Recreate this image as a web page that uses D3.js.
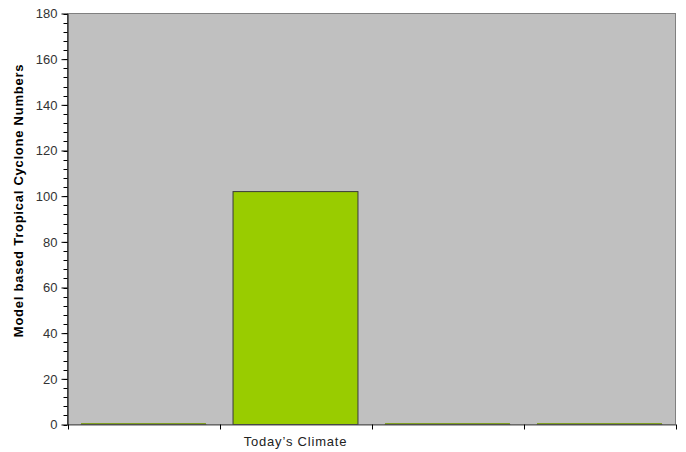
<!DOCTYPE html>
<html><head><meta charset="utf-8">
<script src="https://cdn.jsdelivr.net/npm/d3@7"></script>
<style>body{margin:0;background:#fff;} text{font-family:"Liberation Sans",Arial,sans-serif;}</style>
</head><body>
<svg id="c" width="686" height="452"></svg>
<script>
const categories = ["", "Today\u2019s Climate", "", ""];
const values = [0, 102, 0, 0];
const yTicks = [0, 20, 40, 60, 80, 100, 120, 140, 160, 180];
const yLabel = "Model based Tropical Cyclone Numbers";

const svg = d3.select("#c");
const m = {l: 67.5, t: 13.5, r: 675.5, b: 424.5};
const x = d3.scaleBand().domain(d3.range(categories.length)).range([m.l, m.r]).paddingInner(0.178).paddingOuter(0.089);
const xc = d3.scaleBand().domain(d3.range(categories.length)).range([m.l, m.r]);
const y = d3.scaleLinear().domain([0, 180]).range([m.b, m.t]);

svg.append("rect").attr("x", m.l).attr("y", m.t).attr("width", m.r - m.l).attr("height", m.b - m.t)
  .attr("fill", "#c0c0c0").attr("stroke", "#808080").attr("stroke-width", 1);

// bars
svg.selectAll("rect.bar").data(values).join("rect").attr("class", "bar")
  .attr("x", (d, i) => x(i)).attr("width", x.bandwidth())
  .attr("y", d => y(d)).attr("height", d => Math.max(0.001, y(0) - y(d)))
  .attr("fill", "#99cc00").attr("stroke", "#3a3a3a").attr("stroke-width", 1)
  .attr("stroke-opacity", d => d === 0 ? 0.5 : 1);
// zero bars render as a thin green line
svg.selectAll("line.zb").data(values.map((v, i) => [v, i]).filter(d => d[0] === 0)).join("line")
  .attr("x1", d => x(d[1])).attr("x2", d => x(d[1]) + x.bandwidth())
  .attr("y1", y(0) - 1).attr("y2", y(0) - 1).attr("stroke", "#80a020").attr("stroke-width", 1);

// y axis
const yMinor = d3.range(0, 181, 4);
svg.selectAll("line.ymin").data(yMinor).join("line")
  .attr("x1", m.l - 4).attr("x2", m.l).attr("y1", d => Math.round(y(d)) + 0.5).attr("y2", d => Math.round(y(d)) + 0.5)
  .attr("stroke", "#000");
const ya = svg.append("g").attr("transform", `translate(${m.l},0)`)
  .call(d3.axisLeft(y).tickValues(yTicks).tickSize(6).tickPadding(4).tickSizeOuter(0));
ya.select(".domain").attr("stroke", "#000");
ya.selectAll(".tick line").attr("stroke", "#000");
ya.selectAll(".tick text").attr("font-size", 13).attr("fill", "#333").attr("font-family", "Liberation Sans, Arial, sans-serif");

// x axis
const xa = svg.append("g").attr("transform", `translate(0,${m.b})`)
  .call(d3.axisBottom(xc).tickFormat(i => categories[i]).tickSize(0).tickPadding(12).tickSizeOuter(0));
xa.select(".domain").attr("stroke", "#555");
xa.selectAll(".tick text").attr("font-size", 13).attr("letter-spacing", "0.8px").attr("fill", "#222").attr("font-family", "Liberation Sans, Arial, sans-serif");
const edges = d3.range(categories.length + 1).map(i => i < categories.length ? xc(i) : m.r);
svg.selectAll("line.xt").data(edges).join("line")
  .attr("x1", d => Math.round(d) + 0.5).attr("x2", d => Math.round(d) + 0.5)
  .attr("y1", m.b).attr("y2", m.b + 5).attr("stroke", "#000");

svg.append("text").attr("transform", `translate(23,200.5) rotate(-90)`)
  .attr("text-anchor", "middle").attr("font-size", 13).attr("letter-spacing", "0.75px")
  .attr("font-weight", "bold").attr("fill", "#000")
  .text(yLabel);
</script>
</body></html>
